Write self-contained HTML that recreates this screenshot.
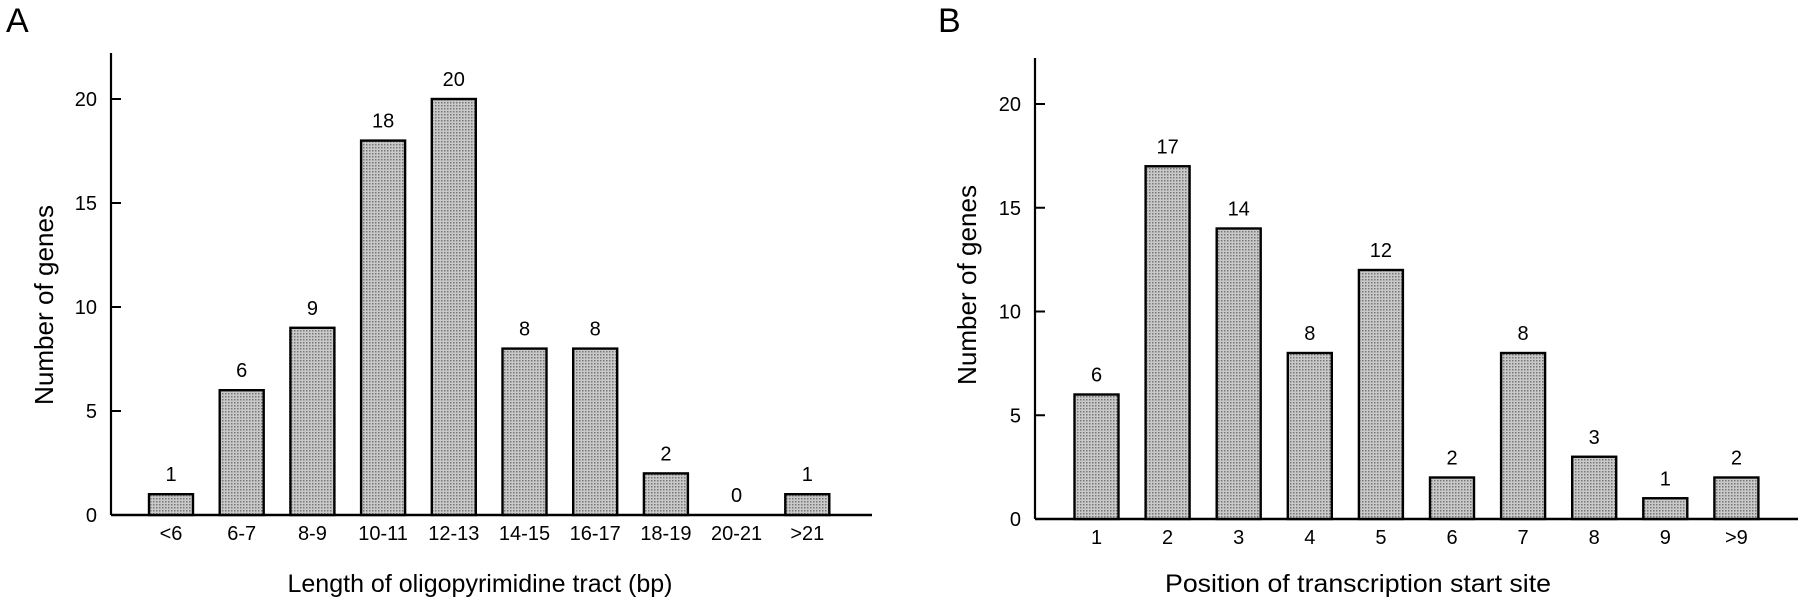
<!DOCTYPE html>
<html><head><meta charset="utf-8"><style>
html,body{margin:0;padding:0;background:#fff;}
svg{display:block;font-family:"Liberation Sans",sans-serif;}
</style></head><body>
<svg id="chart" width="1800" height="604" viewBox="0 0 1800 604" xmlns="http://www.w3.org/2000/svg">
<defs>
<pattern id="stip" width="3" height="3" patternUnits="userSpaceOnUse">
<rect width="3" height="3" fill="#c9c9c9"/><rect width="1.5" height="1.5" fill="#777"/>
</pattern>
</defs>
<text x="6" y="32" font-size="34">A</text>
<text x="938" y="32" font-size="34">B</text>
</svg>
<script>
const catsA = ["<6","6-7","8-9","10-11","12-13","14-15","16-17","18-19","20-21",">21"];
const valsA = [1,6,9,18,20,8,8,2,0,1];
const catsB = ["1","2","3","4","5","6","7","8","9",">9"];
const valsB = [6,17,14,8,12,2,8,3,1,2];
const yTicks = [0,5,10,15,20];

const NS="http://www.w3.org/2000/svg";
const svg=document.getElementById('chart');
function mk(tag,attrs,parent){const e=document.createElementNS(NS,tag);for(const k in attrs)e.setAttribute(k,attrs[k]);(parent||svg).appendChild(e);return e;}

function panel(p){
  const g=mk('g',{});
  
  
  const y=v=>p.y0-v*p.unit;
  const x=i=>p.x0+i*p.step;
  const ya=mk('line',{x1:p.ax,y1:p.top,x2:p.ax,y2:p.y0,stroke:'#000','stroke-width':2.2},g);
  
  
  const xa=mk('line',{x1:p.ax,y1:p.y0,x2:p.xend,y2:p.y0,stroke:'#000','stroke-width':2.5},g);
  
  
  yTicks.forEach(t=>{
    if(t>0){const tk=mk('line',{x1:p.ax,y1:y(t),x2:p.ax+10,y2:y(t),stroke:'#000','stroke-width':2},g);
    
    }
    const tl=mk('text',{x:p.ax-14,y:y(t)+7,'font-size':20,'text-anchor':'end'},g);
    tl.textContent=t;
    
    
  });
  p.cats.forEach((c,i)=>{
    const v=p.vals[i];
    if(v>0){const r=mk('rect',{x:x(i)-22,y:y(v),width:44,height:v*p.unit,fill:'url(#stip)',stroke:'#000','stroke-width':2.4},g);
    
    }
    const vl=mk('text',{x:x(i),y:y(v)-13,'font-size':20,'text-anchor':'middle'},g);
    vl.textContent=v;
    
    
    const cl=mk('text',{x:x(i),y:p.y0+25,'font-size':20,'text-anchor':'middle'},g);
    cl.textContent=c;
    
    
  });
  const xt=mk('text',{x:p.xtx,y:592,'font-size':25,'text-anchor':'middle',textLength:p.xtw,lengthAdjust:'spacingAndGlyphs'},g);
  xt.textContent=p.xtitle;
  
  
  const yt=mk('text',{x:0,y:0,'font-size':26,'text-anchor':'middle',textLength:200,lengthAdjust:'spacingAndGlyphs',transform:`translate(${p.ytx},${p.yty}) rotate(-90)`},g);
  yt.textContent='Number of genes';
  
  
}
panel({name:'chart-a',cats:catsA,vals:valsA,ax:111,top:53,y0:515,unit:20.8,x0:171,step:70.7,xend:872,xtx:480,xtw:385,xtitle:'Length of oligopyrimidine tract (bp)',ytx:53,yty:305});
panel({name:'chart-b',cats:catsB,vals:valsB,ax:1035,top:58,y0:519,unit:20.75,x0:1096.5,step:71.1,xend:1798,xtx:1358,xtw:386,xtitle:'Position of transcription start site',ytx:976,yty:285});
</script>
</body></html>
